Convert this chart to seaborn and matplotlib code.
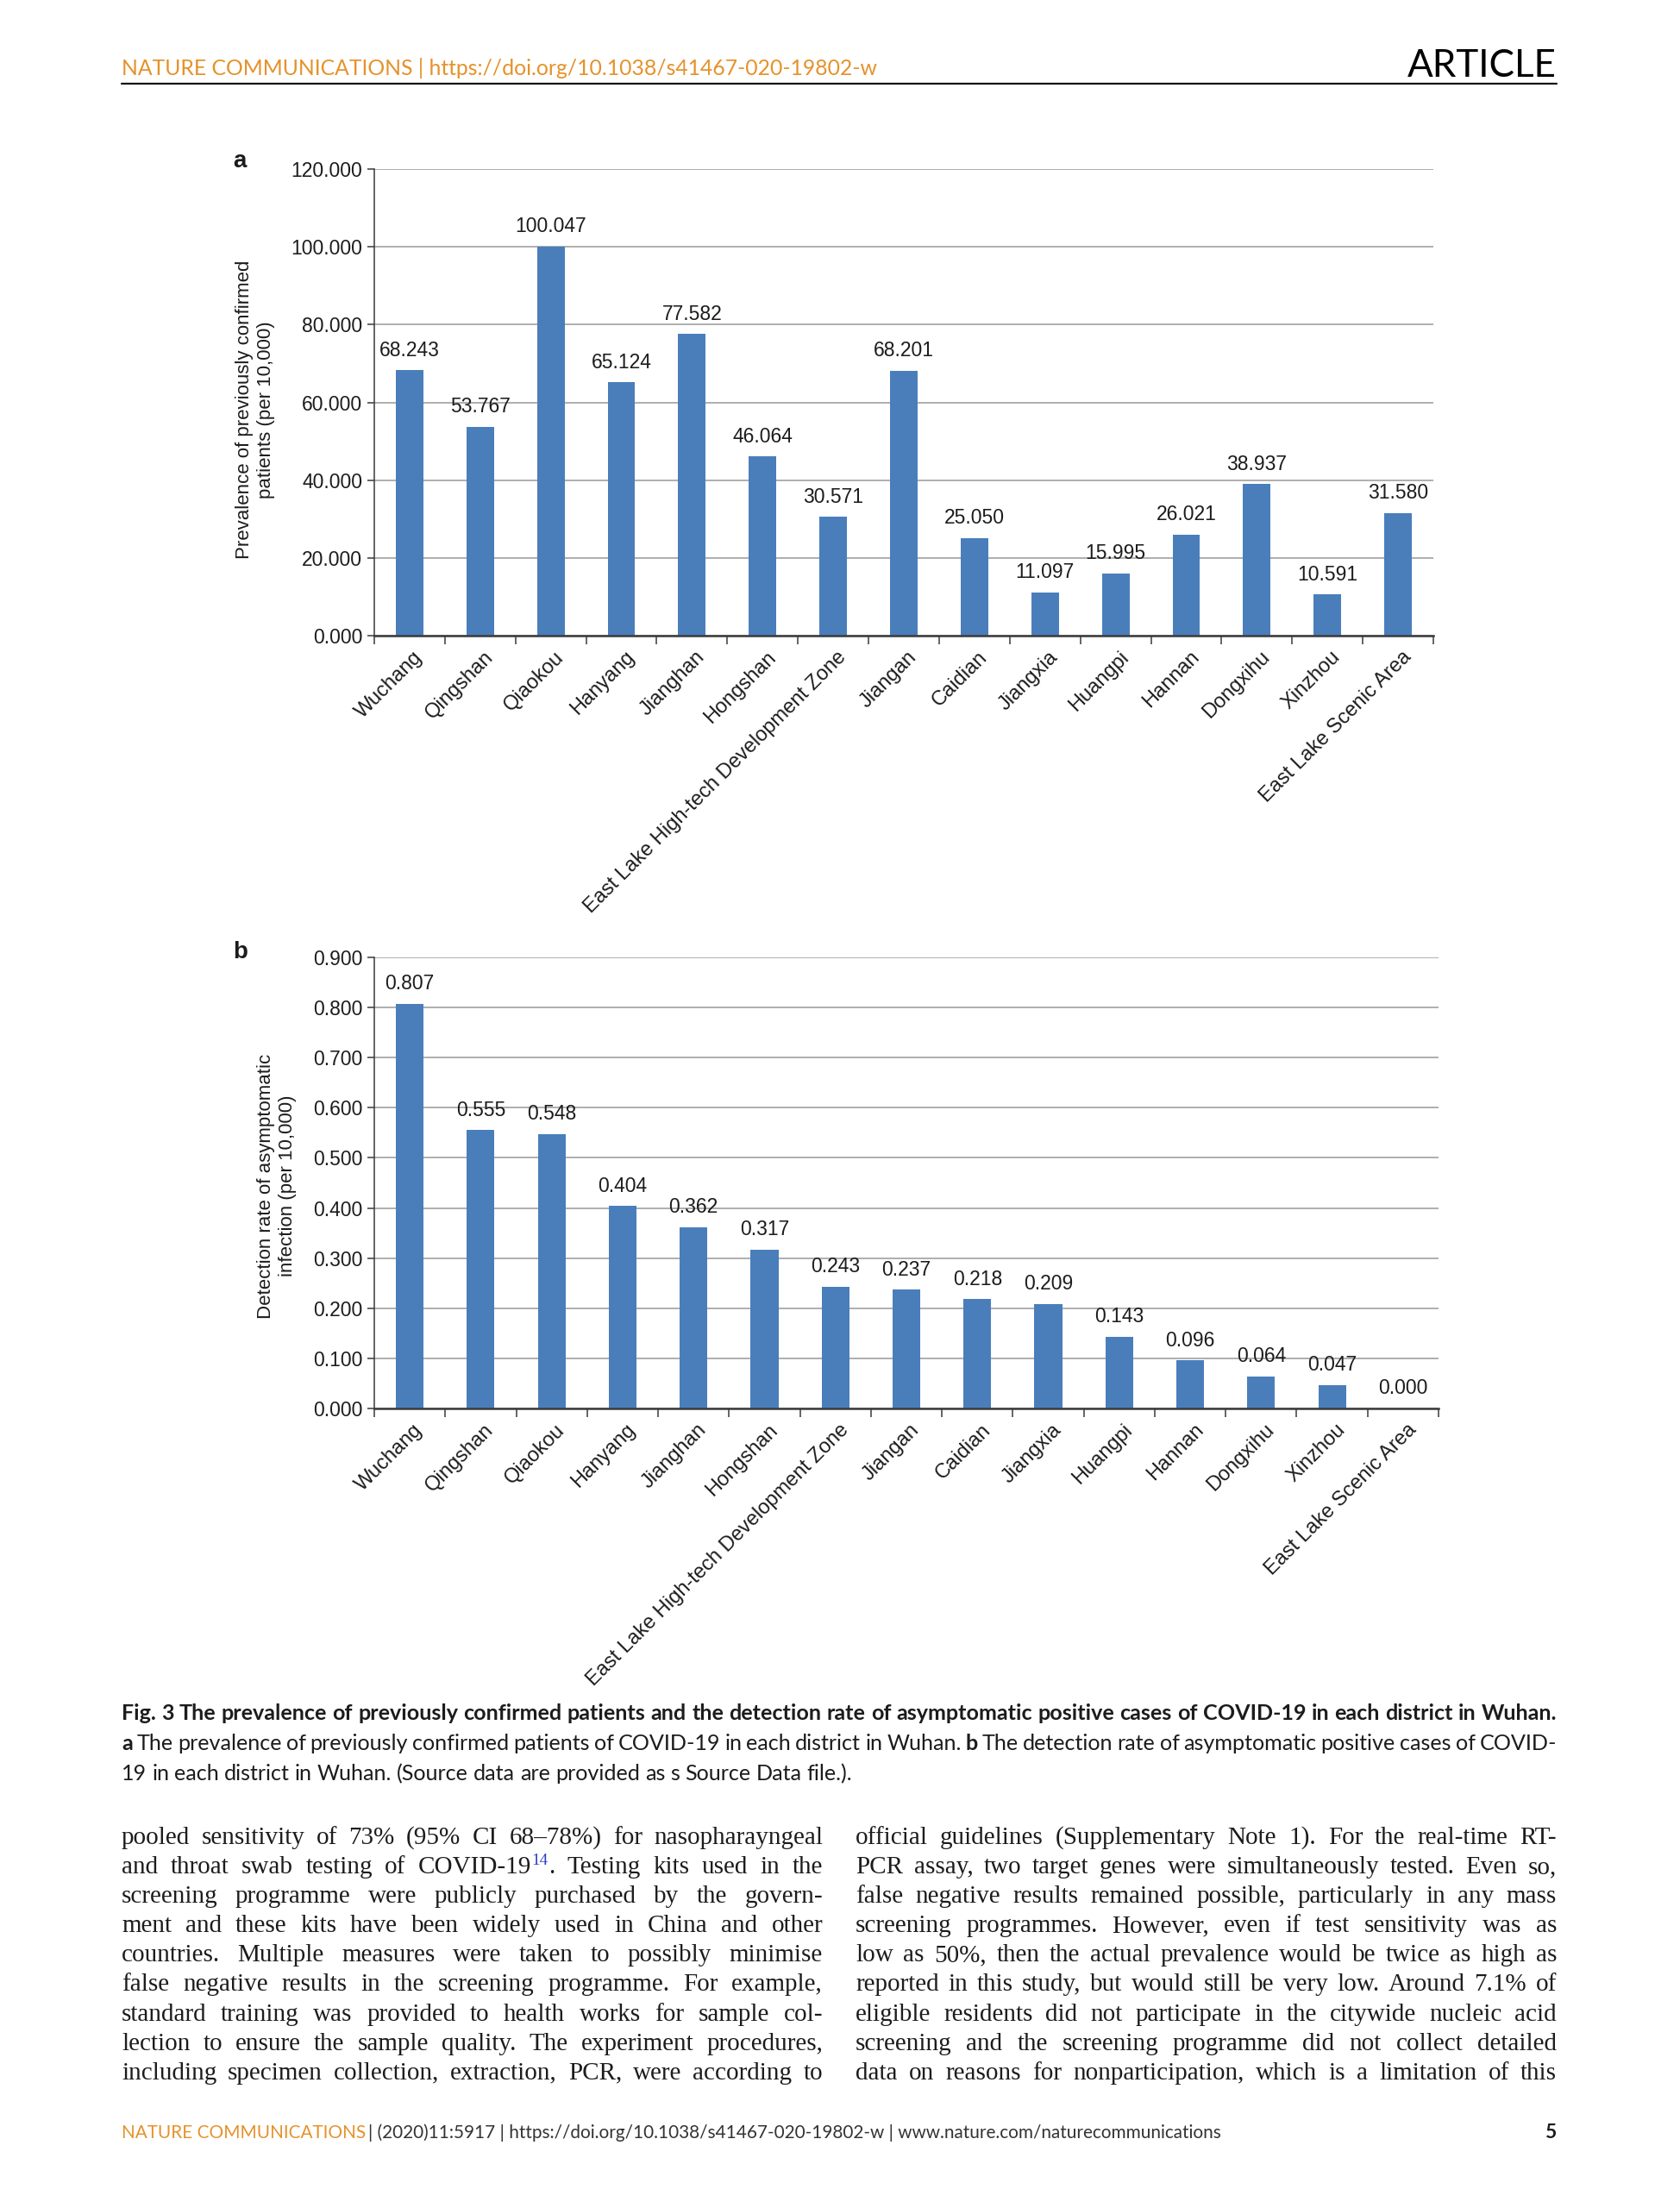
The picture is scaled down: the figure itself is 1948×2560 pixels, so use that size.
import matplotlib
matplotlib.use("Agg")
import matplotlib.pyplot as plt
import matplotlib.transforms as mtransforms
from matplotlib.lines import Line2D
from matplotlib.ticker import FormatStrFormatter, FixedLocator
import seaborn as sns
import numpy as np
import pandas as pd

# ---------------- data ----------------
districts = ["Wuchang", "Qingshan", "Qiaokou", "Hanyang", "Jianghan", "Hongshan",
             "East Lake High-tech Development Zone", "Jiangan", "Caidian", "Jiangxia",
             "Huangpi", "Hannan", "Dongxihu", "Xinzhou", "East Lake Scenic Area"]
prevalence = [68.243, 53.767, 100.047, 65.124, 77.582, 46.064, 30.571, 68.201,
              25.050, 11.097, 15.995, 26.021, 38.937, 10.591, 31.580]
detection = [0.807, 0.555, 0.548, 0.404, 0.362, 0.317, 0.243, 0.237,
             0.218, 0.209, 0.143, 0.096, 0.064, 0.047, 0.000]
yticks_a = [0, 20, 40, 60, 80, 100, 120]
yticks_b = [0.0, 0.1, 0.2, 0.3, 0.4, 0.5, 0.6, 0.7, 0.8, 0.9]
ylabel_a = "Prevalence of previously confirmed\npatients (per 10,000)"
ylabel_b = "Detection rate of asymptomatic\ninfection (per 10,000)"

header_left = "NATURE COMMUNICATIONS | https://doi.org/10.1038/s41467-020-19802-w"
header_right = "ARTICLE"
caption_title = ("Fig. 3 The prevalence of previously confirmed patients and the detection rate "
                 "of asymptomatic positive cases of COVID-19 in each district in Wuhan.")
caption_line2 = ("**a** The prevalence of previously confirmed patients of COVID-19 in each district "
                 "in Wuhan. **b** The detection rate of asymptomatic positive cases of COVID-")
caption_line3 = "19 in each district in Wuhan. (Source data are provided as s Source Data file.)."
body_left = [
    "pooled sensitivity of 73% (95% CI 68\u201378%) for nasopharayngeal",
    "and throat swab testing of COVID-19^14^. Testing kits used in the",
    "screening programme were publicly purchased by the govern-",
    "ment and these kits have been widely used in China and other",
    "countries. Multiple measures were taken to possibly minimise",
    "false negative results in the screening programme. For example,",
    "standard training was provided to health works for sample col-",
    "lection to ensure the sample quality. The experiment procedures,",
    "including specimen collection, extraction, PCR, were according to",
]
body_right = [
    "official guidelines (Supplementary Note 1). For the real-time RT-",
    "PCR assay, two target genes were simultaneously tested. Even so,",
    "false negative results remained possible, particularly in any mass",
    "screening programmes. However, even if test sensitivity was as",
    "low as 50%, then the actual prevalence would be twice as high as",
    "reported in this study, but would still be very low. Around 7.1% of",
    "eligible residents did not participate in the citywide nucleic acid",
    "screening and the screening programme did not collect detailed",
    "data on reasons for nonparticipation, which is a limitation of this",
]
footer_journal = "NATURE COMMUNICATIONS"
footer_rest = "| (2020)11:5917 | https://doi.org/10.1038/s41467-020-19802-w | www.nature.com/naturecommunications"
footer_page = "5"

# ---------------- style ----------------
sns.set_theme(style="white")
plt.rcParams["font.family"] = ["Liberation Sans", "DejaVu Sans"]

W, H = 1948, 2560
fig = plt.figure(figsize=(W / 100, H / 100), dpi=100)
fig.patch.set_facecolor("white")
renderer = fig.canvas.get_renderer()

BAR = "#4A7EBB"
INK = "#1c1c1c"
AXC = "#3a3a3a"
GRID = "#A8A8A8"
ORANGE = "#E5922B"
SUPBLUE = "#2B3FC4"
SANS = ["Lato", "DejaVu Sans"]
SERIF = ["Liberation Serif", "DejaVu Serif"]


def txt(x, y, s, **kw):
    return fig.text(x / W, 1 - y / H, s, **kw)


def measure(s, **kw):
    t = fig.text(0, 0, s, **kw)
    w = t.get_window_extent(renderer).width
    t.remove()
    return w


def fit_size(s, target, base=20.0, **kw):
    return base * target / measure(s, fontsize=base, **kw)


def make_axes(l, t, r, b):
    return fig.add_axes([l / W, 1 - b / H, (r - l) / W, (b - t) / H])


def draw_chart(ax, values, ymax, yticks, ylabel, label_coords):
    df = pd.DataFrame({"district": districts, "value": values})
    sns.barplot(data=df, x="district", y="value", color=BAR, saturation=1,
                width=0.39, ax=ax, edgecolor="none")
    n = len(districts)
    ax.set_xlim(-0.5, n - 0.5)
    ax.set_ylim(0, ymax)
    ax.set_yticks(yticks)
    ax.yaxis.set_major_formatter(FormatStrFormatter("%.3f"))
    ax.set_axisbelow(True)
    ax.yaxis.grid(True, color=GRID, lw=1.3)
    ax.xaxis.grid(False)
    for s in ("top", "right"):
        ax.spines[s].set_visible(False)
    ax.spines["left"].set_color(AXC)
    ax.spines["left"].set_linewidth(1.1)
    ax.spines["bottom"].set_color(AXC)
    ax.spines["bottom"].set_linewidth(1.8)
    ax.tick_params(axis="y", which="major", left=True, length=6, width=1.1, color=AXC,
                   labelsize=16.5, labelcolor=INK, pad=4)
    ax.set_xticks(range(n))
    ax.set_xticklabels(districts, rotation=45, ha="right", va="top", rotation_mode="anchor")
    ax.tick_params(axis="x", which="major", bottom=True, length=0, labelsize=17,
                   labelcolor=INK, pad=10)
    ax.xaxis.set_minor_locator(FixedLocator(np.arange(-0.5, n, 1.0)))
    ax.tick_params(axis="x", which="minor", bottom=True, length=7, width=1.1, color=AXC)
    offset = mtransforms.ScaledTranslation(4 / 100, 0, fig.dpi_scale_trans)
    for lab in ax.get_xticklabels():
        lab.set_transform(lab.get_transform() + offset)
    ax.set_xlabel("")
    ax.set_ylabel(ylabel, fontsize=16, color=INK, linespacing=1.25)
    ax.yaxis.set_label_coords(*label_coords)
    for i, v in enumerate(values):
        ax.annotate(f"{v:.3f}", xy=(i, v), xytext=(0, 12), textcoords="offset points",
                    ha="center", va="baseline", fontsize=16.5, color=INK)


# ---------------- charts ----------------
ax_a = make_axes(434, 196, 1662, 737)
draw_chart(ax_a, prevalence, 120, yticks_a, ylabel_a, (-0.0936, 0.484))
ax_b = make_axes(434, 1110, 1668, 1633)
draw_chart(ax_b, detection, 0.9, yticks_b, ylabel_b, (-0.0729, 0.493))

txt(270, 194, "a", fontsize=20, fontweight="bold", color=INK, va="baseline", ha="left")
txt(270, 1111, "b", fontsize=20, fontweight="bold", color=INK, va="baseline", ha="left")


# ---------------- text helpers ----------------
def parse(line, base_kw, bold_kw=None, sup_kw=None, sup_dy=0):
    groups = []
    for word in line.split(" "):
        if word.startswith("**") and word.endswith("**") and bold_kw is not None:
            groups.append([(word[2:-2], bold_kw, 0)])
        elif "^" in word and sup_kw is not None:
            grp = []
            for k, p in enumerate(word.split("^")):
                if not p:
                    continue
                if k % 2 == 1:
                    grp.append((p, sup_kw, sup_dy))
                else:
                    grp.append((p, base_kw, 0))
            groups.append(grp)
        else:
            groups.append([(word, base_kw, 0)])
    return groups


def group_widths(groups):
    return [[measure(s, **kw) for s, kw, dy in g] for g in groups]


def draw_line(groups, x0, x1, y, justify=True, space=6.0):
    widths = group_widths(groups)
    total = sum(sum(w) for w in widths)
    n = len(groups)
    gap = (x1 - x0 - total) / (n - 1) if (justify and n > 1) else space
    x = x0
    for g, ws in zip(groups, widths):
        for (s, kw, dy), w in zip(g, ws):
            txt(x, y - dy, s, ha="left", va="baseline", **kw)
            x += w
        x += gap


# ---------------- header ----------------
fs_head = fit_size(header_left, 873, family=SANS)
txt(141, 87, header_left, fontsize=fs_head, family=SANS, color=ORANGE, ha="left", va="baseline")
fs_art = fit_size(header_right, 173, family=SANS)
txt(1805, 89, header_right, fontsize=fs_art, family=SANS, color="#000000",
    ha="right", va="baseline")
fig.add_artist(Line2D([141 / W, 1805 / W], [1 - 97 / H, 1 - 97 / H], color="#111111", lw=1.6))

# ---------------- caption ----------------
fs_cap = fit_size(caption_title, 1664, family=SANS, fontweight="bold")
cap_kw = dict(fontsize=fs_cap, family=SANS, color=INK)
capb_kw = dict(fontsize=fs_cap, family=SANS, color=INK, fontweight="bold")
draw_line(parse(caption_title, capb_kw), 141, 1805, 1994, justify=True)
draw_line(parse(caption_line2, cap_kw, bold_kw=capb_kw), 141, 1805, 2029, justify=True)
draw_line(parse(caption_line3, cap_kw), 141, 1805, 2064, justify=False,
          space=0.24 * fs_cap * 100 / 72)

# ---------------- body ----------------
base_fs = 18.0
em = base_fs * 100 / 72
scales = []
for col, (x0, x1) in ((body_left, (141, 954)), (body_right, (992, 1805))):
    for line in col:
        kw = dict(fontsize=base_fs, family=SERIF, color=INK)
        g = parse(line, kw, sup_kw=dict(fontsize=base_fs * 0.65, family=SERIF, color=SUPBLUE))
        nat = sum(sum(w) for w in group_widths(g)) + (len(g) - 1) * 0.17 * em
        scales.append((x1 - x0) / nat)
fs_body = float(np.clip(base_fs * min(scales), 14, 21))
body_kw = dict(fontsize=fs_body, family=SERIF, color=INK)
sup_kw = dict(fontsize=fs_body * 0.65, family=SERIF, color=SUPBLUE)
for col, (x0, x1) in ((body_left, (141, 954)), (body_right, (992, 1805))):
    for i, line in enumerate(col):
        y = 2138 + i * 34.1
        draw_line(parse(line, body_kw, sup_kw=sup_kw, sup_dy=10), x0, x1, y, justify=True)

# ---------------- footer ----------------
w_j = measure(footer_journal, fontsize=20, family=SANS)
w_r = measure(footer_rest, fontsize=20, family=SANS)
fs_foot = 20 * (1415 - 141 - 4) / (w_j + w_r)
txt(141, 2479, footer_journal, fontsize=fs_foot, family=SANS, color=ORANGE, ha="left", va="baseline")
xj = 141 + w_j * fs_foot / 20 + 4
txt(xj, 2479, footer_rest, fontsize=fs_foot, family=SANS, color="#333333", ha="left", va="baseline")
txt(1805, 2479, footer_page, fontsize=fs_foot * 1.1, family=SANS, fontweight="bold", color=INK,
    ha="right", va="baseline")

fig.savefig("out.png", dpi=100, facecolor="white")
